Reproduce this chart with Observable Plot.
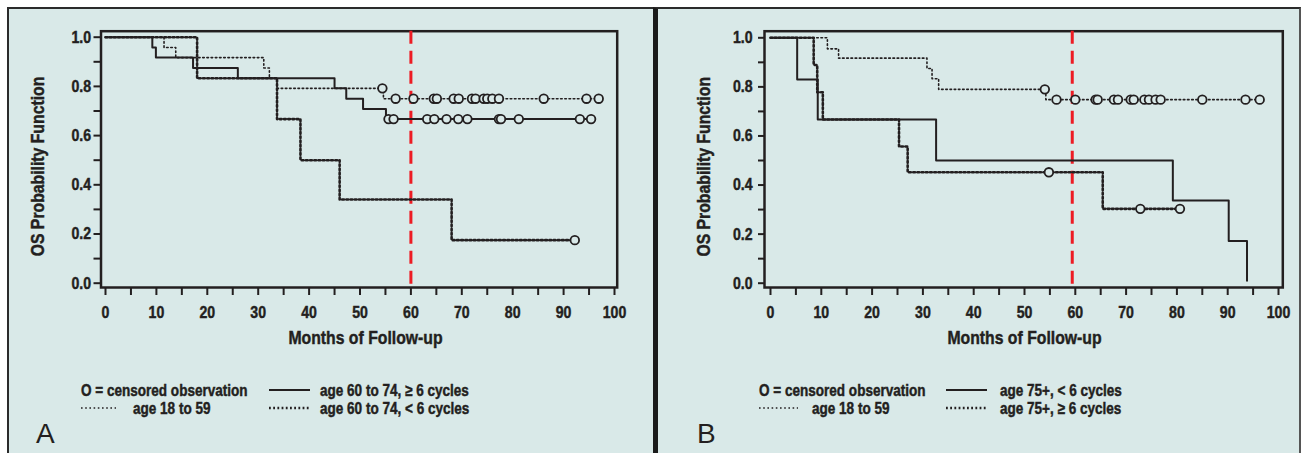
<!DOCTYPE html>
<html><head><meta charset="utf-8">
<script src="https://cdn.jsdelivr.net/npm/d3@7"></script>
<script src="https://cdn.jsdelivr.net/npm/@observablehq/plot@0.6"></script>
<style>
body{margin:0;background:#fff;width:1301px;height:453px;overflow:hidden;position:relative;
 font-family:"Liberation Sans",Arial,sans-serif;}
.panel{position:absolute;top:7px;bottom:0;background:#d9e9e8;box-sizing:border-box;border-top:2px solid #2b2b2b;}
#pa{left:7px;width:648px;border-left:2px solid #2b2b2b;}
#pb{left:653px;width:648px;border-left:5px solid #1b1b1b;border-right:2px solid #555;}
.chart{position:absolute;top:0;}
.chart text{stroke:#231f20;stroke-width:0.45px;}
.leg{position:absolute;font-weight:bold;font-size:16.5px;color:#231f20;white-space:nowrap;line-height:1;
 transform:scaleX(0.82);transform-origin:0 0;-webkit-text-stroke:0.45px #231f20;}
.sample{position:absolute;overflow:visible;}
.letter{position:absolute;font-family:"Liberation Sans",Arial,sans-serif;font-size:28px;color:#231f20;line-height:1;}
</style></head>
<body>
<div class="panel" id="pa"></div>
<div class="panel" id="pb"></div>
<script>
// ---------- data ----------
const xTicks = [0,5,10,15,20,25,30,35,40,45,50,55,60,65,70,75,80,85,90,95,100];
const xTickLabels = ["0","","10","","20","","30","","40","","50","","60","","70","","80","","90","","100"];
const yTicks = [0,0.1,0.2,0.3,0.4,0.5,0.6,0.7,0.8,0.9,1.0];
const yTickLabels = ["0.0","","0.2","","0.4","","0.6","","0.8","","1.0"];
const xTitle = "Months of Follow-up";
const yTitle = "OS Probability Function";

// Panel A
const aYoungTime = [0, 11.5, 13.8, 31.1, 32.2, 33.7, 54.6, 97.0];
const aYoungSurv = [1, 0.958, 0.917, 0.875, 0.833, 0.792, 0.750, 0.750];
const aYoungCens = [54.4, 57.0, 60.5, 64.5, 65.1, 68.4, 69.4, 72.0, 72.7, 74.3, 75.0, 76.0, 77.3, 86.1, 94.5, 96.9];
const aHiTime = [0, 9.2, 9.9, 17.2, 26.0, 45.0, 47.3, 50.6, 55.1, 95.4];
const aHiSurv = [1, 0.958, 0.917, 0.875, 0.833, 0.792, 0.750, 0.708, 0.667, 0.667];
const aHiCens = [55.6, 56.6, 63.2, 64.6, 67.0, 69.3, 71.1, 77.3, 77.7, 81.2, 93.2, 95.4];
const aLoTime = [0, 18.0, 33.7, 38.3, 46.0, 68.0, 92.2];
const aLoSurv = [1, 0.833, 0.667, 0.500, 0.340, 0.175, 0.175];
const aLoCens = [92.2];
const aCutoff = [60];
const aLegend = ["O = censored observation", "age 18 to 59", "age 60 to 74, \u2265 6 cycles", "age 60 to 74, < 6 cycles"];

// Panel B
const bYoungTime = [0, 11.2, 13.4, 30.8, 31.8, 33.1, 54.2, 96.3];
const bYoungSurv = [1, 0.955, 0.917, 0.875, 0.833, 0.790, 0.748, 0.748];
const bYoungCens = [54.0, 56.3, 60.0, 64.0, 64.4, 67.6, 68.4, 70.9, 71.5, 73.6, 74.5, 75.8, 76.8, 85.0, 93.5, 96.3];
const bLoTime = [0, 5.25, 9.3, 32.6, 79.2, 90.2, 93.8];
const bLoSurv = [1, 0.830, 0.667, 0.500, 0.337, 0.172, 0.01];
const bLoCens = [];
const bHiTime = [0, 8.5, 9.2, 10.3, 25.3, 27.0, 65.4, 80.6];
const bHiSurv = [1, 0.889, 0.778, 0.667, 0.557, 0.452, 0.303, 0.303];
const bHiCens = [54.8, 72.8, 80.6];
const bCutoff = [59.4];
const bLegend = ["O = censored observation", "age 18 to 59", "age 75+, < 6 cycles", "age 75+, \u2265 6 cycles"];

// ---------- styles ----------
const INK = "#231f20", BG = "#d9e9e8", RED = "#ed1c24";
const FONT = '"Liberation Sans",Arial,sans-serif';
const NARROW = 0.83;
const STY = {
  solid: {strokeWidth: 2, strokeDasharray: null},
  fine: {strokeWidth: 1.6, strokeDasharray: "1.6,2.6"},
  heavy: {strokeWidth: 2.6, strokeDasharray: "1.8,2.4"}
};

const km = (T, S) => T.map((t, i) => ({t, s: S[i]}));
function survAt(T, S, t) { let s = S[0]; for (let i = 0; i < T.length; i++) if (T[i] <= t) s = S[i]; return s; }
const cens = (T, S, C) => C.map(t => ({t, s: survAt(T, S, t)}));

function chart(o) {
  const marks = [
    Plot.frame({stroke: INK, strokeWidth: 2.5, insetLeft: o.inL, insetRight: o.inR, insetTop: o.inT, insetBottom: o.inB}),
    Plot.axisX({ticks: xTicks, tickFormat: d => xTickLabels[xTicks.indexOf(d)], tickSize: 8, dy: -o.inB, tickPadding: 10,
      strokeWidth: 2, label: null, fontSize: 17, fontWeight: "bold"}),
    Plot.axisY({ticks: yTicks, tickFormat: d => yTickLabels[yTicks.indexOf(d)], tickSize: o.ytSize, dx: o.inL, tickPadding: o.ytPad,
      strokeWidth: 2, label: null, fontSize: 17, fontWeight: "bold"}),
    Plot.ruleX(o.cutoff, {stroke: RED, strokeWidth: 3, strokeDasharray: "13,7", insetTop: o.inT, insetBottom: o.inB})
  ];
  for (const s of o.series) {
    marks.push(Plot.line(km(s.T, s.S), {x: "t", y: "s", curve: "step-after", stroke: INK, ...STY[s.style]}));
  }
  for (const s of o.series) {
    if (s.C.length) marks.push(Plot.dot(cens(s.T, s.S, s.C), {x: "t", y: "s", r: 4.3, stroke: INK, strokeWidth: 1.8, fill: BG}));
  }
  marks.push(Plot.text([xTitle], {frameAnchor: "bottom", textAnchor: "middle", lineAnchor: "top", dy: 47.3, dx: o.titleDx, fontSize: 19, fontWeight: "bold", fill: INK}));
  marks.push(Plot.text([yTitle], {frameAnchor: "left", textAnchor: "middle", rotate: -90, lineAnchor: "top", dx: o.yTitleDx, dy: 6.3, fontSize: 19, fontWeight: "bold", fill: INK}));
  const svg = Plot.plot({
    width: 650, height: 360,
    marginLeft: o.mL, marginRight: o.mR, marginTop: o.mT, marginBottom: 360 - 282.7,
    x: {domain: [0, 100], label: null},
    y: {domain: [0, 1], label: null},
    style: {background: "transparent", fontFamily: FONT, fontSize: "17px", fontWeight: "bold", color: INK},
    marks
  });
  svg.classList.add("chart");
  svg.style.left = o.left + "px";
  document.body.appendChild(svg);
  // condense the bold sans text to mimic a narrow typeface
  svg.querySelectorAll("text").forEach(t => {
    const L = t.getComputedTextLength();
    if (L > 0) { t.setAttribute("textLength", L * NARROW); t.setAttribute("lengthAdjust", "spacingAndGlyphs"); }
  });
}

chart({left: 0, mL: 105, mR: 36, mT: 36.7, inL: -4.5, inR: -2.7, inT: -6, inB: -4.3, ytSize: 7, ytPad: 3,
  titleDx: 5.5, yTitleDx: -75, cutoff: aCutoff,
  series: [
    {T: aYoungTime, S: aYoungSurv, C: aYoungCens, style: "fine"},
    {T: aLoTime, S: aLoSurv, C: aLoCens, style: "heavy"},
    {T: aHiTime, S: aHiSurv, C: aHiCens, style: "solid"}
  ]});
chart({left: 650, mL: 120, mR: 22, mT: 37.3, inL: -6, inR: -4.3, inT: -6.6, inB: -4.3, ytSize: 6, ytPad: 6,
  titleDx: 0, yTitleDx: -74, cutoff: bCutoff,
  series: [
    {T: bYoungTime, S: bYoungSurv, C: bYoungCens, style: "fine"},
    {T: bHiTime, S: bHiSurv, C: bHiCens, style: "heavy"},
    {T: bLoTime, S: bLoSurv, C: bLoCens, style: "solid"}
  ]});

// ---------- legends ----------
function txt(s, x, y, cls) {
  const d = document.createElement("div"); d.className = cls; d.textContent = s;
  d.style.left = x + "px"; d.style.top = y + "px"; document.body.appendChild(d);
}
function sample(style, x, y, w) {
  const ns = "http://www.w3.org/2000/svg";
  const svg = document.createElementNS(ns, "svg");
  svg.setAttribute("class", "sample"); svg.setAttribute("width", w); svg.setAttribute("height", 8);
  svg.style.left = x + "px"; svg.style.top = (y - 4) + "px";
  const l = document.createElementNS(ns, "line");
  l.setAttribute("x1", 0); l.setAttribute("x2", w); l.setAttribute("y1", 4); l.setAttribute("y2", 4);
  l.setAttribute("stroke", INK); l.setAttribute("stroke-width", STY[style].strokeWidth);
  if (STY[style].strokeDasharray) l.setAttribute("stroke-dasharray", STY[style].strokeDasharray);
  svg.appendChild(l); document.body.appendChild(svg);
}
function legend(L, o) {
  txt(L[0], o.x0, 382, "leg");
  txt(L[1], o.x1, 399.5, "leg");
  txt(L[2], o.x3, 382, "leg");
  txt(L[3], o.x3, 399.5, "leg");
  sample("fine", o.x0, 408, o.w0);
  sample("solid", o.x2, 390, o.w2);
  sample("heavy", o.x2, 408, o.w2);
}
legend(aLegend, {x0: 80.7, w0: 35, x1: 133, x2: 269, w2: 41, x3: 320});
legend(bLegend, {x0: 759, w0: 39, x1: 812, x2: 946, w2: 41, x3: 1000});
txt("A", 36, 419.5, "letter");
txt("B", 697, 419.5, "letter");
</script>
</body></html>
